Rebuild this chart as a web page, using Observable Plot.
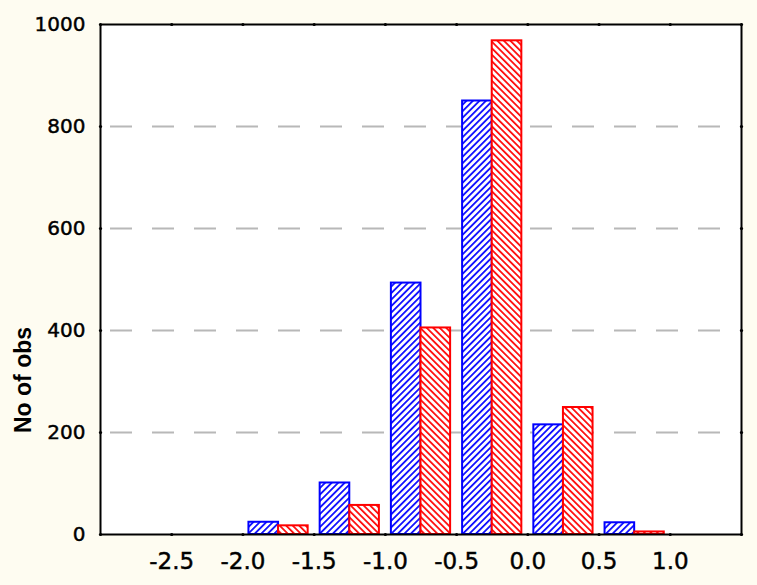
<!DOCTYPE html>
<html><head><meta charset="utf-8">
<script src="https://cdn.jsdelivr.net/npm/d3@7"></script>
<script src="https://cdn.jsdelivr.net/npm/@observablehq/plot@0.6"></script>
<style>
html,body{margin:0;padding:0;background:#fefcf1;}
#chart{position:relative;width:757px;height:585px;}
g[aria-label="x-axis tick label"], g[aria-label="y-axis tick label"]{stroke:black;stroke-width:0.45px;}
</style>
</head><body><div id="chart"></div>
<script>
// Histogram bins (lower edges) and counts for the two series
const binStart = [-2.0, -1.5, -1.0, -0.5, 0.0, 0.5];
const blueCounts = [24, 101, 493, 850, 215, 23];
const redCounts  = [17, 57, 405, 968, 249, 5];
const binWidth = 0.5;
const xTicks = [-2.5, -2.0, -1.5, -1.0, -0.5, 0.0, 0.5, 1.0];
const yTicks = [0, 200, 400, 600, 800, 1000];
const gridValues = [200, 400, 600, 800];
const yLabel = "No of obs";

const blueColor = "#0000ff";
const redColor = "#ff0000";

const rows = [];
binStart.forEach((s, i) => {
  rows.push({series: "blue", x1: s, x2: s + binWidth / 2, y: blueCounts[i]});
  rows.push({series: "red", x1: s + binWidth / 2, x2: s + binWidth, y: redCounts[i]});
});

const fmtX = d => d.toFixed(1);   // plain hyphen-minus as in the original
const fmtY = d => String(d);

const chart = Plot.plot({
  width: 757,
  height: 585,
  marginLeft: 100,
  marginRight: 16,
  marginTop: 24,
  marginBottom: 51,
  style: {background: "transparent", fontFamily: "DejaVu Sans", color: "black"},
  x: {domain: [-3, 1.5]},
  y: {domain: [0, 1000]},
  marks: [
    Plot.frame({fill: "white", stroke: null}),
    Plot.ruleY(gridValues, {stroke: "#b8b8b8", strokeWidth: 2, strokeDasharray: "22 20", strokeDashoffset: 32}),
    Plot.rectY(rows.filter(d => d.series === "blue"), {
      x1: "x1", x2: "x2", y: "y", insetLeft: 6, insetRight: 0,
      fill: "url(#hatchBlue)", stroke: blueColor, strokeWidth: 2
    }),
    Plot.rectY(rows.filter(d => d.series === "red"), {
      x1: "x1", x2: "x2", y: "y", insetLeft: 0, insetRight: 6,
      fill: "url(#hatchRed)", stroke: redColor, strokeWidth: 2
    }),
    Plot.frame({stroke: "black", strokeWidth: 2}),
    Plot.dot(xTicks, {x: d => d, frameAnchor: "top", r: 1.6, fill: "black", stroke: null}),
    Plot.dot(xTicks, {x: d => d, frameAnchor: "bottom", r: 1.6, fill: "black", stroke: null}),
    Plot.dot(yTicks, {y: d => d, frameAnchor: "left", r: 1.6, fill: "black", stroke: null}),
    Plot.dot(yTicks, {y: d => d, frameAnchor: "right", r: 1.6, fill: "black", stroke: null}),
    Plot.axisX(xTicks, {tickSize: 0, tickPadding: 18, fontSize: 23, tickFormat: fmtX, label: null}),
    Plot.axisY(yTicks, {tickSize: 0, tickPadding: 15, fontSize: 20, tickFormat: fmtY, label: null})
  ]
});

// hatch patterns
const P = 4.6;
const defs = `
<defs>
  <pattern id="hatchBlue" patternUnits="userSpaceOnUse" width="${P}" height="${P}" patternTransform="rotate(45)">
    <rect width="${P}" height="${P}" fill="white"/>
    <line x1="0.9" y1="0" x2="0.9" y2="${P}" stroke="${blueColor}" stroke-width="1.7"/>
  </pattern>
  <pattern id="hatchRed" patternUnits="userSpaceOnUse" width="${P}" height="${P}" patternTransform="rotate(-45)">
    <rect width="${P}" height="${P}" fill="white"/>
    <line x1="0.9" y1="0" x2="0.9" y2="${P}" stroke="${redColor}" stroke-width="1.7"/>
  </pattern>
</defs>`;
chart.insertAdjacentHTML("afterbegin", defs);

// y-axis title
const ns = "http://www.w3.org/2000/svg";
const t = document.createElementNS(ns, "text");
t.setAttribute("transform", "translate(31,380) rotate(-90)");
t.setAttribute("text-anchor", "middle");
t.setAttribute("font-family", "Liberation Sans, Arial, sans-serif");
t.setAttribute("font-weight", "bold");
t.setAttribute("font-size", "23");
t.setAttribute("fill", "black");
t.textContent = yLabel;
chart.appendChild(t);

document.getElementById("chart").appendChild(chart);
</script>
</body></html>
